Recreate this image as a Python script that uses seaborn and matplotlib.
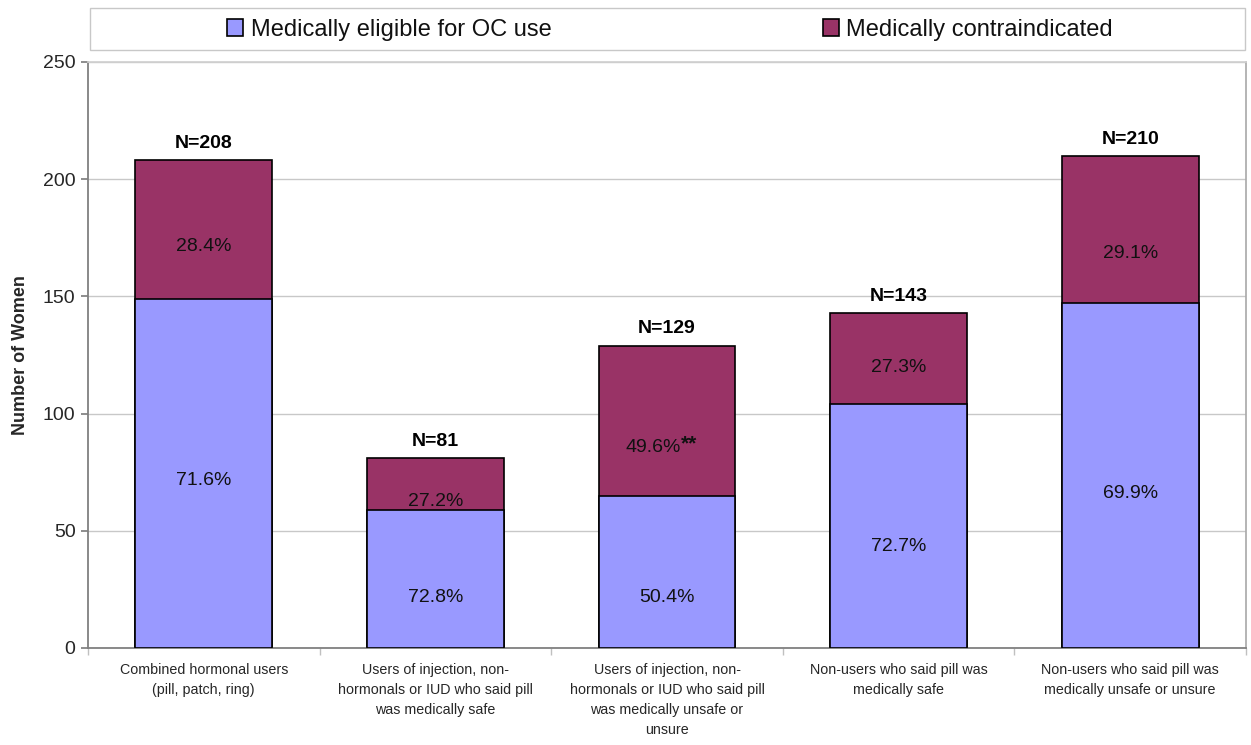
import matplotlib
matplotlib.use("Agg")
import matplotlib.pyplot as plt
import seaborn as sns
import pandas as pd
from matplotlib.patches import Patch, Rectangle
from matplotlib.ticker import FixedLocator

categories = [
    "Combined hormonal users\n(pill, patch, ring)",
    "Users of injection, non-\nhormonals or IUD who said pill\nwas medically safe",
    "Users of injection, non-\nhormonals or IUD who said pill\nwas medically unsafe or\nunsure",
    "Non-users who said pill was\nmedically safe",
    "Non-users who said pill was\nmedically unsafe or unsure",
]
totals = [208, 81, 129, 143, 210]
eligible = [149, 59, 65, 104, 147]
eligible_pct = ["71.6%", "72.8%", "50.4%", "72.7%", "69.9%"]
contra_pct = ["28.4%", "27.2%", "49.6%", "27.3%", "29.1%"]
contra_mark = ["", "", "**", "", ""]
n_labels = ["N=208", "N=81", "N=129", "N=143", "N=210"]
legend_labels = ["Medically eligible for OC use", "Medically contraindicated"]

# label placement (layout, in data units)
eligible_label_y = [71.5, 21.5, 21.5, 43.5, 66]
contra_label_y = [171.5, 62.5, 85.5, 119.5, 168.5]

c_elig = "#9999FF"
c_contra = "#993366"

sns.set_theme(style="white")
plt.rcParams["font.family"] = ["Liberation Sans", "DejaVu Sans"]

fig = plt.figure(figsize=(12.51, 7.45), dpi=100)
ax = fig.add_axes([88 / 1251, 1 - 648 / 745, (1246 - 88) / 1251, (648 - 62) / 745])

df = pd.DataFrame({"cat": categories, "total": totals, "elig": eligible})
sns.barplot(data=df, x="cat", y="total", color=c_contra, saturation=1,
            width=0.59, edgecolor="black", linewidth=1.2, ax=ax, zorder=2)
sns.barplot(data=df, x="cat", y="elig", color=c_elig, saturation=1,
            width=0.59, edgecolor="black", linewidth=1.2, ax=ax, zorder=3)

ax.set_ylim(0, 250)
ax.set_xlim(-0.5, 4.5)
ax.set_yticks([0, 50, 100, 150, 200, 250])
ax.yaxis.grid(True, color="#C8C8C8", linewidth=1)
ax.set_axisbelow(True)
ax.spines["top"].set_color("#D0D0D0")
ax.spines["right"].set_color("#A8A8A8")
ax.spines["right"].set_linewidth(1.2)
for s in ["left", "bottom"]:
    ax.spines[s].set_color("#808080")
    ax.spines[s].set_linewidth(1.3)

ax.tick_params(axis="y", labelsize=14, length=5, color="#808080", direction="out", left=True, pad=4)
ax.tick_params(axis="x", which="major", labelsize=10.3, length=0, pad=11)
ax.xaxis.set_minor_locator(FixedLocator([-0.5, 0.5, 1.5, 2.5, 3.5, 4.5]))
ax.tick_params(axis="x", which="minor", length=5, color="#C0C0C0", bottom=True)
ax.set_xlabel("")
ax.set_ylabel("Number of Women", fontsize=13, fontweight="bold", labelpad=10)
for lbl in ax.get_xticklabels():
    lbl.set_linespacing(1.55)

for i in range(len(categories)):
    ax.text(i, eligible_label_y[i], eligible_pct[i], ha="center", va="center",
            fontsize=14, color="#111111", zorder=5)
    if contra_mark[i]:
        ax.text(i + 0.06, contra_label_y[i], contra_pct[i], ha="right", va="center",
                fontsize=14, color="#111111", zorder=5)
        ax.text(i + 0.06, contra_label_y[i] + 1.5, contra_mark[i], ha="left", va="center",
                fontsize=15, fontweight="bold", color="#111111", zorder=5)
    else:
        ax.text(i, contra_label_y[i], contra_pct[i], ha="center", va="center",
                fontsize=14, color="#111111", zorder=5)
    ax.text(i, totals[i] + 3.5, n_labels[i], ha="center", va="bottom",
            fontsize=14, fontweight="bold", color="black", zorder=5)

# legend frame
fig.patches.append(Rectangle((90 / 1251, 1 - 50 / 745), (1245 - 90) / 1251, 42 / 745,
                             transform=fig.transFigure, facecolor="white",
                             edgecolor="#C8C8C8", linewidth=1))
handles = [Patch(facecolor=c_elig, edgecolor="black", linewidth=1.2),
           Patch(facecolor=c_contra, edgecolor="black", linewidth=1.2)]
leg = fig.legend(handles, legend_labels, loc="center", ncol=2,
                 bbox_to_anchor=(670 / 1251, 1 - 30 / 745),
                 fontsize=17, frameon=False,
                 handlelength=0.7, handleheight=0.7, handletextpad=0.3,
                 borderpad=0.2, columnspacing=11.5)
for t in leg.get_texts():
    t.set_color("#111111")

fig.savefig("out.png", dpi=100)
